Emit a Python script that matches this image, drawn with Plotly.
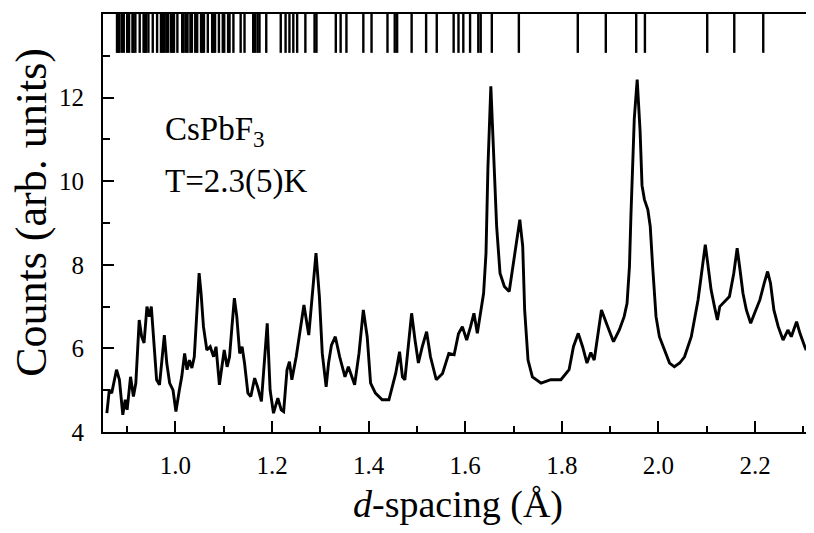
import plotly.graph_objects as go

# Diffraction pattern (d-spacing in Å, counts in arb. units)
d_spacing = [0.858, 0.863, 0.868, 0.878, 0.884, 0.891, 0.896, 0.900, 0.907, 0.913, 0.918,
             0.925, 0.930, 0.935, 0.941, 0.946, 0.950, 0.954, 0.961, 0.967, 0.972, 0.977,
             0.982, 0.988, 0.995, 1.001, 1.008, 1.013, 1.019, 1.024, 1.029, 1.034, 1.039,
             1.044, 1.049, 1.053, 1.058, 1.065, 1.072, 1.079, 1.084, 1.091, 1.096, 1.101,
             1.107, 1.112, 1.117, 1.122, 1.127, 1.133, 1.138, 1.143, 1.150, 1.156, 1.164,
             1.170, 1.178, 1.183, 1.190, 1.196, 1.203, 1.212, 1.219, 1.224, 1.231, 1.236,
             1.241, 1.250, 1.259, 1.266, 1.276, 1.283, 1.291, 1.298, 1.304, 1.312, 1.317,
             1.323, 1.331, 1.340, 1.351, 1.358, 1.365, 1.371, 1.380, 1.389, 1.397, 1.404,
             1.414, 1.428, 1.442, 1.452, 1.456, 1.464, 1.470, 1.475, 1.482, 1.489, 1.496,
             1.503, 1.511, 1.520, 1.528, 1.540, 1.553, 1.566, 1.577, 1.586, 1.594, 1.603,
             1.611, 1.618, 1.625, 1.631, 1.638, 1.643, 1.647, 1.653, 1.658, 1.665, 1.672,
             1.681, 1.691, 1.701, 1.713, 1.719, 1.723, 1.730, 1.739, 1.757, 1.777, 1.798,
             1.815, 1.824, 1.834, 1.843, 1.852, 1.860, 1.867, 1.871, 1.880, 1.882, 1.895,
             1.907, 1.919, 1.929, 1.935, 1.940, 1.943, 1.950, 1.956, 1.962, 1.966, 1.971,
             1.978, 1.983, 1.988, 1.995, 2.002, 2.012, 2.023, 2.033, 2.044, 2.054, 2.068,
             2.082, 2.092, 2.097, 2.102, 2.109, 2.116, 2.122, 2.127, 2.137, 2.147, 2.156,
             2.163, 2.168, 2.175, 2.182, 2.191, 2.199, 2.210, 2.219, 2.226, 2.232, 2.239,
             2.248, 2.258, 2.268, 2.275, 2.286, 2.293, 2.303, 2.306]
counts = [4.45, 5.00, 4.93, 5.49, 5.25, 4.41, 4.77, 4.53, 5.32, 4.85, 5.17,
          6.68, 6.28, 6.13, 7.00, 6.76, 7.00, 6.28, 5.25, 5.13, 5.65, 6.32,
          5.65, 5.17, 5.00, 4.49, 5.00, 5.32, 5.88, 5.49, 5.72, 5.53, 5.80,
          6.92, 7.80, 7.32, 6.52, 5.96, 6.04, 5.80, 6.04, 5.13, 5.56, 5.96,
          5.56, 5.80, 6.52, 7.20, 6.76, 5.88, 6.04, 5.65, 4.93, 4.85, 5.29,
          5.08, 4.73, 5.49, 6.60, 5.00, 4.45, 4.81, 4.53, 4.49, 5.49, 5.68,
          5.25, 5.80, 6.52, 7.04, 6.32, 7.16, 8.28, 7.24, 5.88, 5.08, 5.65,
          6.08, 6.28, 5.80, 5.32, 5.56, 5.32, 5.13, 5.88, 6.92, 6.28, 5.17,
          4.93, 4.77, 4.77, 5.21, 5.40, 5.92, 5.32, 5.25, 6.12, 6.84, 6.20,
          5.65, 6.04, 6.40, 5.80, 5.25, 5.40, 5.88, 5.85, 6.35, 6.52, 6.20,
          6.52, 6.84, 6.36, 6.76, 7.32, 8.28, 10.35, 12.27, 10.91, 8.92, 7.80,
          7.48, 7.36, 8.12, 9.08, 8.44, 6.92, 5.72, 5.32, 5.17, 5.25, 5.25,
          5.49, 6.04, 6.36, 6.04, 5.65, 5.90, 5.72, 6.04, 6.84, 6.92, 6.52,
          6.16, 6.44, 6.76, 7.08, 7.96, 9.16, 11.5, 12.43, 11.2, 9.9, 9.56,
          9.32, 8.92, 7.96, 6.76, 6.28, 5.96, 5.65, 5.56, 5.65, 5.80, 6.28,
          7.16, 8.12, 8.48, 8.04, 7.40, 7.00, 6.68, 7.00, 7.12, 7.24, 7.80,
          8.40, 7.96, 7.32, 6.92, 6.60, 6.84, 7.16, 7.56, 7.84, 7.56, 6.92,
          6.52, 6.20, 6.44, 6.28, 6.64, 6.36, 6.04, 5.96]

# Bragg reflection positions (Å)
reflections = [0.879, 0.882, 0.884, 0.889, 0.893, 0.900, 0.904, 0.911, 0.913, 0.917,
               0.926, 0.934, 0.937, 0.939, 0.944, 0.953, 0.962, 0.970, 0.973, 0.976,
               0.981, 0.985, 0.991, 0.994, 0.997, 1.004, 1.014, 1.017, 1.022, 1.025,
               1.031, 1.034, 1.041, 1.045, 1.053, 1.056, 1.059, 1.067, 1.076, 1.079,
               1.082, 1.090, 1.098, 1.101, 1.109, 1.112, 1.120, 1.135, 1.143, 1.161,
               1.165, 1.170, 1.174, 1.188, 1.218, 1.228, 1.236, 1.244, 1.252, 1.269,
               1.288, 1.292, 1.332, 1.342, 1.354, 1.389, 1.406, 1.439, 1.454, 1.459,
               1.489, 1.519, 1.541, 1.576, 1.586, 1.596, 1.610, 1.627, 1.632, 1.655,
               1.711, 1.833, 1.891, 1.954, 1.972, 2.101, 2.157, 2.217]
refl_low, refl_high = 13.07, 14.0

x_major = [1.0, 1.2, 1.4, 1.6, 1.8, 2.0, 2.2]
x_major_text = ["1.0", "1.2", "1.4", "1.6", "1.8", "2.0", "2.2"]
x_minor = [0.9, 1.1, 1.3, 1.5, 1.7, 1.9, 2.1, 2.3]
y_major = [4, 6, 8, 10, 12]
y_minor = [5, 7, 9, 11, 13]

FONT = "'Liberation Serif', 'Times New Roman', Times, serif"

fig = go.Figure()

fig.add_trace(go.Scatter(
    x=d_spacing, y=counts, mode="lines",
    line=dict(color="black", width=2.9),
    hoverinfo="skip", showlegend=False))

rx, ry = [], []
for r in reflections:
    rx += [r, r, None]
    ry += [refl_low, refl_high, None]
fig.add_trace(go.Scatter(
    x=rx, y=ry, mode="lines",
    line=dict(color="black", width=2.4),
    hoverinfo="skip", showlegend=False))

# The page body has an 8px default margin, so the figure is 8px smaller
fig.update_layout(
    width=806, height=525,
    margin=dict(l=95, r=1, t=6, b=101, autoexpand=False),
    paper_bgcolor="white", plot_bgcolor="white",
    font=dict(family=FONT, color="black"),
    showlegend=False,
    xaxis=dict(
        range=[0.85, 2.32], automargin=False,
        tickmode="array", tickvals=x_major, ticktext=x_major_text,
        ticks="inside", ticklen=11, tickwidth=1.6, tickcolor="black",
        minor=dict(tickvals=x_minor, ticks="inside", ticklen=6, tickwidth=1.6, tickcolor="black"),
        showline=True, linecolor="black", linewidth=2, mirror=True,
        showgrid=False, zeroline=False,
        tickfont=dict(family=FONT, size=25, color="black"),
        ticklabelstandoff=10,
        title=dict(text="<i>d</i>-spacing (Å)", font=dict(family=FONT, size=38, color="black"), standoff=12),
    ),
    yaxis=dict(
        range=[4, 14], automargin=False,
        tickmode="array", tickvals=y_major,
        ticks="inside", ticklen=11, tickwidth=1.6, tickcolor="black",
        minor=dict(tickvals=y_minor, ticks="inside", ticklen=7, tickwidth=1.6, tickcolor="black"),
        showline=True, linecolor="black", linewidth=2, mirror=False,
        showgrid=False, zeroline=False,
        tickfont=dict(family=FONT, size=25, color="black"),
        ticklabelstandoff=12,
    ),
    annotations=[
        dict(x=-0.101, y=0.525, xref="paper", yref="paper", text="Counts (arb. units)",
             textangle=-90, showarrow=False, xanchor="center", yanchor="middle",
             font=dict(family=FONT, size=44, color="black")),
        dict(x=0.974, y=11.2, xref="x", yref="y", text="CsPbF<sub>3</sub>",
             showarrow=False, xanchor="left", yanchor="middle",
             font=dict(family=FONT, size=33, color="black")),
        dict(x=0.974, y=10.0, xref="x", yref="y", text="T=2.3(5)K",
             showarrow=False, xanchor="left", yanchor="middle",
             font=dict(family=FONT, size=33, color="black")),
    ],
)

fig.write_html("out.html")
